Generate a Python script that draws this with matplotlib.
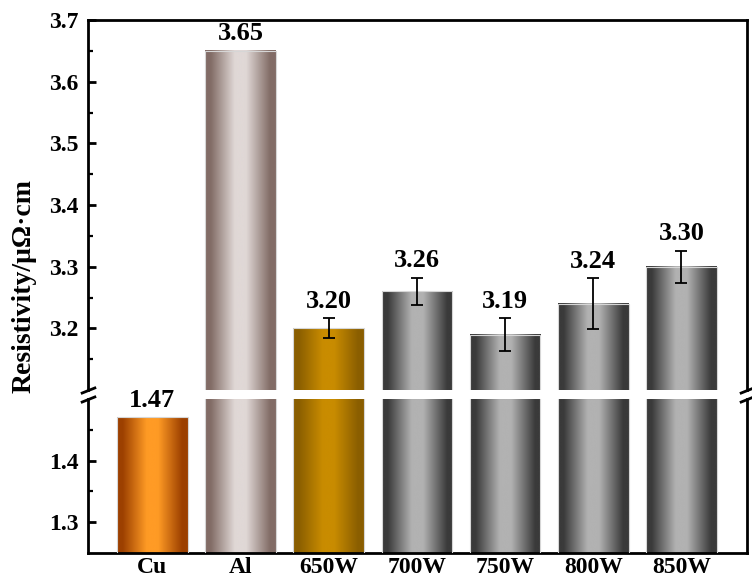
import numpy as np
import matplotlib
matplotlib.use("Agg")
import matplotlib.pyplot as plt
from matplotlib.colors import LinearSegmentedColormap

plt.rcParams['font.family'] = ['Liberation Serif', 'DejaVu Serif']
plt.rcParams['font.weight'] = 'bold'

categories = ['Cu', 'Al', '650W', '700W', '750W', '800W', '850W']
values = [1.47, 3.65, 3.20, 3.26, 3.19, 3.24, 3.30]
errors = [0, 0, 0.016, 0.022, 0.026, 0.041, 0.026]

# (edge colour, centre colour) for the cylinder-like shading of each bar
shades = [('#9c4000', '#ff9b25'),
          ('#826c66', '#e0d8d6'),
          ('#8a5e00', '#c98c00'),
          ('#3a3a3a', '#b2b2b2'),
          ('#3a3a3a', '#b2b2b2'),
          ('#3a3a3a', '#b2b2b2'),
          ('#3a3a3a', '#b2b2b2')]

x = np.arange(len(categories))

fig = plt.figure(figsize=(7.52, 5.81), dpi=100)
ax_top = fig.add_axes([0.117, 0.3287, 0.876, 0.6368])
ax_bot = fig.add_axes([0.117, 0.0482, 0.876, 0.2651])
ax_top.set_ylim(3.1, 3.7)
ax_bot.set_ylim(1.25, 1.5)


def shaded_bars(ax):
    lo, hi = ax.get_ylim()
    bars = ax.bar(x, values, width=0.8, color='none', edgecolor='#d6d6d6',
                  linewidth=0.8, zorder=3)
    grad = np.linspace(0, 1, 256).reshape(1, -1)
    for bar, (dark, light) in zip(bars, shades):
        top = bar.get_y() + bar.get_height()
        if top <= lo:
            continue
        cmap = LinearSegmentedColormap.from_list(
            'shade', [(0, dark), (0.08, dark), (0.42, light), (0.58, light),
                      (0.92, dark), (1, dark)])
        x0 = bar.get_x()
        ax.imshow(grad, extent=[x0, x0 + bar.get_width(), lo, min(top, hi)],
                  aspect='auto', cmap=cmap, zorder=2, interpolation='bicubic')
    ax.set_ylim(lo, hi)
    return bars


for ax in (ax_top, ax_bot):
    shaded_bars(ax)
    ax.errorbar(x[2:], values[2:], yerr=errors[2:], fmt='none', ecolor='black',
                elinewidth=1.3, capsize=4, capthick=1.3, zorder=4)
    ax.set_xlim(-0.73, 6.74)
    for side in ('left', 'right', 'top', 'bottom'):
        ax.spines[side].set_linewidth(2.0)
    ax.tick_params(axis='y', which='major', direction='in', length=6, width=2,
                   labelsize=17, pad=7, right=False)
    ax.tick_params(axis='y', which='minor', direction='in', length=3.5, width=1.6,
                   right=False)

ax_top.set_yticks(np.arange(3.2, 3.71, 0.1))
ax_top.set_yticks(np.arange(3.15, 3.7, 0.1), minor=True)
ax_top.spines['bottom'].set_visible(False)
ax_top.tick_params(axis='x', bottom=False, labelbottom=False)

ax_bot.set_yticks([1.3, 1.4])
ax_bot.set_yticks([1.35, 1.45], minor=True)
ax_bot.spines['top'].set_visible(False)
ax_bot.set_xticks(x)
ax_bot.set_xticklabels(categories, fontsize=17, fontweight='bold')
ax_bot.tick_params(axis='x', length=0, pad=3)

# value labels above the bars (or above the error bars)
for i, (v, e) in enumerate(zip(values, errors)):
    ax = ax_bot if v < 3.1 else ax_top
    ax.annotate(f'{v:.2f}', (x[i], v + e), xytext=(0, 4), textcoords='offset points',
                ha='center', va='bottom', fontsize=19, fontweight='bold', zorder=6)

# break marks on both vertical spines
mk = [(-1, -0.4), (1, 0.4)]
kw = dict(marker=mk, markersize=11, linestyle='none', color='black',
          mec='black', mew=2, clip_on=False, zorder=5)
ax_top.plot([0, 1], [0, 0], transform=ax_top.transAxes, **kw)
ax_bot.plot([0, 1], [1, 1], transform=ax_bot.transAxes, **kw)

fig.text(24 / 752, 1 - 286 / 581, 'Resistivity/μΩ·cm', rotation=90,
         ha='center', va='center', fontsize=20, fontweight='bold')

fig.savefig('out.png', dpi=100)
